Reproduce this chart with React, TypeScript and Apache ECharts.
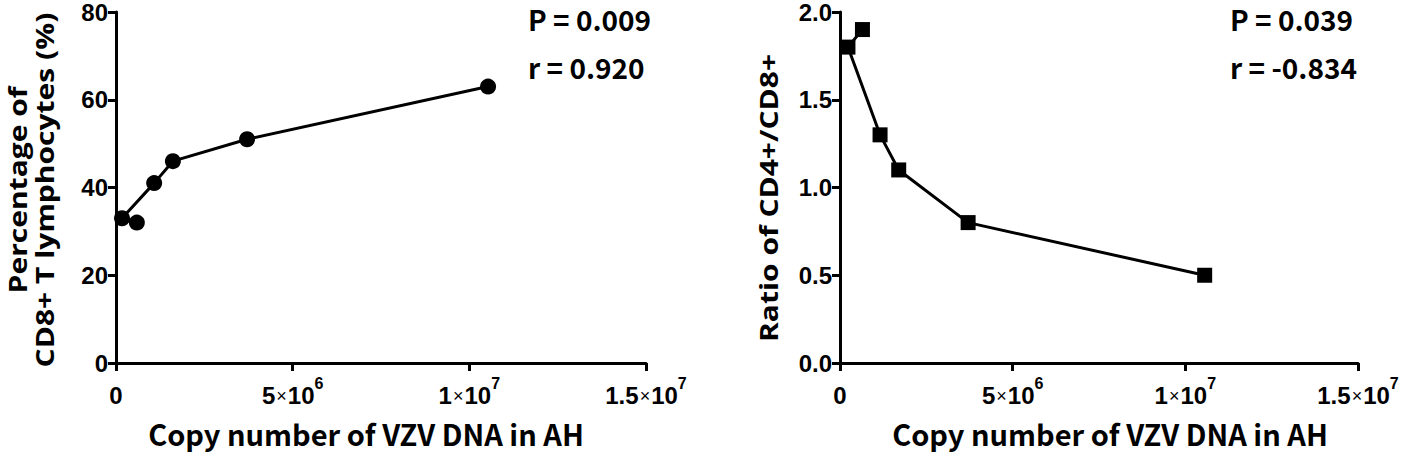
import React, { useEffect, useRef } from "react";
import * as echarts from "echarts";

// Left panel: Percentage of CD8+ T lymphocytes vs VZV copy number (line joins points in this order)
const leftX = [590000, 170000, 1080000, 1610000, 3710000, 10530000];
const leftY = [32, 33, 41, 46, 51, 63];
// Right panel: CD4+/CD8+ ratio vs VZV copy number
const rightX = [650000, 230000, 1160000, 1700000, 3710000, 10560000];
const rightY = [1.9, 1.8, 1.3, 1.1, 0.8, 0.5];

const xTicks = [0, 5000000, 10000000, 15000000];
const leftStats = ["P = 0.009", "r = 0.920"];
const rightStats = ["P = 0.039", "r = -0.834"];
const xTitle = "Copy number of VZV DNA in AH";
const leftYTitle = "Percentage of\nCD8+ T lymphocytes (%)";
const rightYTitle = "Ratio of CD4+/CD8+";

const tickFont = "'Liberation Sans', Arial, sans-serif";
const titleFont = "'Noto Sans CJK SC', 'Open Sans', sans-serif";

function sciLabel(v: number): string {
  if (v === 0) return "{n|0}";
  const exp = Math.floor(Math.log10(v));
  const mant = +(v / Math.pow(10, exp)).toFixed(2);
  return `{n|${mant}}{x|×}{n|10}{s|${exp}}`;
}

const axisLine = { show: true, lineStyle: { color: "#000", width: 3 } };
const axisTick = { show: true, length: 8, inside: false, lineStyle: { color: "#000", width: 3 } };

function makeX(gridIndex: number) {
  return {
    type: "value",
    gridIndex,
    min: xTicks[0],
    max: xTicks[xTicks.length - 1],
    interval: 5000000,
    axisLine,
    axisTick,
    splitLine: { show: false },
    axisLabel: {
      margin: 12,
      formatter: (v: number) => sciLabel(v),
      rich: {
        n: { fontFamily: tickFont, fontWeight: "bold", fontSize: 24, color: "#000", lineHeight: 32, verticalAlign: "bottom" },
        x: { fontFamily: tickFont, fontSize: 18, color: "#000", lineHeight: 32, verticalAlign: "bottom", padding: [0, 1, 2, 1] },
        s: { fontFamily: tickFont, fontWeight: "bold", fontSize: 16, color: "#000", lineHeight: 32, verticalAlign: "top" },
      },
    },
  };
}

function makeY(gridIndex: number, max: number, interval: number, decimals: number) {
  return {
    type: "value",
    gridIndex,
    min: 0,
    max,
    interval,
    axisLine,
    axisTick,
    splitLine: { show: false },
    axisLabel: {
      margin: 8,
      fontFamily: tickFont,
      fontWeight: "bold",
      fontSize: 24,
      color: "#000",
      formatter: (v: number) => v.toFixed(decimals),
    },
  };
}

export default function App() {
  const ref = useRef<HTMLDivElement>(null);
  useEffect(() => {
    if (!ref.current) return;
    const chart = echarts.init(ref.current, undefined, { renderer: "svg" });
    const statStyle = { fontFamily: titleFont, fontWeight: "bold", fontSize: 28, lineHeight: 30, fill: "#000", textVerticalAlign: "top" };
    const yTitleStyle = { fontFamily: "'Open Sans', sans-serif", fontWeight: "bold", fontSize: 25, fill: "#000", textAlign: "center", textVerticalAlign: "middle" };
    const xTitleStyle = { fontFamily: titleFont, fontWeight: "bold", fontSize: 29, fill: "#000", textAlign: "center", textVerticalAlign: "middle" };
    chart.setOption({
      animation: false,
      backgroundColor: "#fff",
      grid: [
        { left: 116, top: 11, width: 530, height: 352 },
        { left: 840, top: 11, width: 518, height: 352 },
      ],
      xAxis: [makeX(0), makeX(1)],
      yAxis: [makeY(0, 80, 20, 0), makeY(1, 2, 0.5, 1)],
      series: [
        {
          type: "line",
          xAxisIndex: 0,
          yAxisIndex: 0,
          data: leftX.map((x, i) => [x, leftY[i]]),
          symbol: "circle",
          symbolSize: 16,
          lineStyle: { color: "#000", width: 3 },
          itemStyle: { color: "#000" },
        },
        {
          type: "line",
          xAxisIndex: 1,
          yAxisIndex: 1,
          data: rightX.map((x, i) => [x, rightY[i]]),
          symbol: "rect",
          symbolSize: 15,
          lineStyle: { color: "#000", width: 3 },
          itemStyle: { color: "#000" },
        },
      ],
      graphic: [
        {
          type: "text",
          x: 31,
          y: 190,
          rotation: Math.PI / 2,
          scaleX: 1.2,
          style: { ...yTitleStyle, lineHeight: 27, text: leftYTitle },
        },
        {
          type: "text",
          x: 768,
          y: 198,
          rotation: Math.PI / 2,
          scaleX: 1.2,
          style: { ...yTitleStyle, text: rightYTitle },
        },
        { type: "text", x: 366, y: 433, style: { ...xTitleStyle, text: xTitle } },
        { type: "text", x: 1110, y: 433, style: { ...xTitleStyle, text: xTitle } },
        { type: "text", x: 528, y: 4, style: { ...statStyle, text: leftStats[0] } },
        { type: "text", x: 528, y: 52, style: { ...statStyle, text: leftStats[1] } },
        { type: "text", x: 1230, y: 4, style: { ...statStyle, text: rightStats[0] } },
        { type: "text", x: 1230, y: 52, style: { ...statStyle, text: rightStats[1] } },
      ],
    });
    return () => chart.dispose();
  }, []);
  return <div ref={ref} style={{ position: "absolute", left: 0, top: 0, width: 1418, height: 456 }} />;
}
